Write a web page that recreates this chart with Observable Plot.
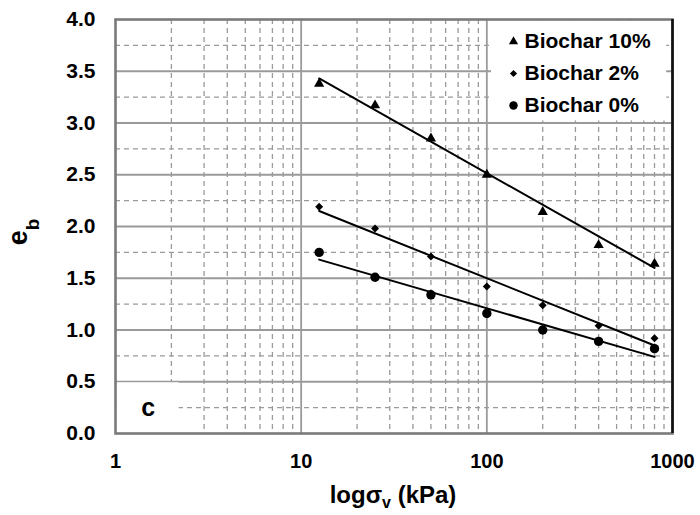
<!DOCTYPE html>
<html><head><meta charset="utf-8">
<script src="https://cdn.jsdelivr.net/npm/d3@7"></script>
<script src="https://cdn.jsdelivr.net/npm/@observablehq/plot@0.6"></script>
<style>
body{margin:0;background:#fff}
svg{font-family:"Liberation Sans",Arial,sans-serif}
</style>
</head><body><div id="chart"></div>
<script>
// ---- data ----
const stress = [12.5, 25, 50, 100, 200, 400, 800];           // σv (kPa)
const biochar10 = [3.38, 3.17, 2.85, 2.50, 2.14, 1.82, 1.64];
const biochar2  = [2.19, 1.98, 1.71, 1.42, 1.24, 1.04, 0.92];
const biochar0  = [1.75, 1.51, 1.34, 1.16, 1.00, 0.89, 0.82];
const seriesNames   = ["Biochar 10%", "Biochar 2%", "Biochar 0%"];
const seriesSymbols = ["triangle", "diamond2", "circle"];
const seriesRadius  = [3.8, 3.6, 4.7];
// fitted trend lines, end points
const fitStress = [12.5, 800];
const fit10 = [3.43, 1.60];
const fit2  = [2.15, 0.85];
const fit0  = [1.68, 0.74];
// axis ticks
const xTicks = [1, 10, 100, 1000];
const yTicks = [0, 0.5, 1.0, 1.5, 2.0, 2.5, 3.0, 3.5, 4.0];
const panelLabel = "c";

// ---- derived tables ----
const values = [biochar10, biochar2, biochar0];
const points = values.flatMap((v, s) => stress.map((x, i) => ({x, y: v[i], s})));
const fits = [fit10, fit2, fit0].flatMap((f, s) => fitStress.map((x, i) => ({x, y: f[i], s})));
const xMinor = xTicks.slice(0, -1).flatMap(d => [2,3,4,5,6,7,8,9].map(k => d * k));
const xMajorInner = xTicks.slice(1, -1);
const yMajorInner = yTicks.slice(1, -1);
const yMinor = yTicks.slice(0, -1).map(d => d + 0.25);

const gridColor = "#9a9a9a";
const marks = [
  Plot.ruleX(xMinor, {stroke: gridColor, strokeWidth: 1.3, strokeDasharray: "5,4", strokeOpacity: 1}),
  Plot.ruleY(yMinor, {stroke: gridColor, strokeWidth: 1.3, strokeDasharray: "5,4", strokeOpacity: 1}),
  Plot.ruleX(xMajorInner, {stroke: gridColor, strokeWidth: 1.8, strokeOpacity: 1}),
  Plot.ruleY(yMajorInner, {stroke: gridColor, strokeWidth: 1.8, strokeOpacity: 1}),
  // white background of legend and of the panel label
  Plot.rect([0], {x1: 106, x2: 930, y1: 3.02, y2: 3.985, fill: "white"}),
  Plot.rect([0], {x1: 1.02, x2: 2.2, y1: 0.02, y2: 0.49, fill: "white"}),
  Plot.text([panelLabel], {x: 1.5, y: 0.25, text: d => d, fontSize: 25, fontWeight: "bold", fill: "black", textAnchor: "middle"}),
  // trend lines
  Plot.line(fits, {x: "x", y: "y", z: "s", stroke: "black", strokeWidth: 2}),
  // data points
  ...seriesNames.map((n, s) => Plot.dot(points.filter(d => d.s === s), {
    x: "x", y: "y", symbol: () => seriesSymbols[s], r: seriesRadius[s], fill: "black", stroke: "none"
  })),
  // legend
  ...seriesNames.map((n, s) => Plot.dot([n], {
    frameAnchor: "top-left", dx: 398, dy: 22 + s * 32,
    symbol: () => seriesSymbols[s], r: seriesRadius[s] * 0.9, fill: "black", stroke: "none"
  })),
  ...seriesNames.map((n, s) => Plot.text([n], {
    frameAnchor: "top-left", dx: 409, dy: 22 + s * 32, text: d => d, textAnchor: "start",
    fontSize: 21, fontWeight: "bold", fill: "black", lineAnchor: "middle"
  })),
  // frame
  Plot.frame({stroke: "#7a7a7a", strokeWidth: 2.6}),
  Plot.ruleX([d3.max(xTicks)], {stroke: "#111", strokeWidth: 2.6}),
  Plot.axisX({ticks: xTicks, tickFormat: d => String(d), tickSize: 0, tickPadding: 20, fontSize: 20, fontWeight: "bold", fill: "black", label: null}),
  Plot.axisY({ticks: yTicks, tickFormat: d3.format(".1f"), tickSize: 0, tickPadding: 20, fontSize: 21, fontWeight: "bold", fill: "black", label: null})
];

const chart = Plot.plot({
  width: 700, height: 515,
  marginLeft: 115, marginRight: 28, marginTop: 19, marginBottom: 82,
  x: {type: "log", domain: [1, 1000]},
  y: {domain: [0, 4]},
  style: {fontFamily: '"Liberation Sans", Arial, sans-serif', color: "black", background: "white", overflow: "visible"},
  marks
});

const svg = d3.select(chart);
// x axis label with subscript
const xl = svg.append("text")
  .attr("x", 393).attr("y", 503)
  .attr("text-anchor", "middle")
  .attr("font-size", 24).attr("font-weight", "bold").attr("fill", "black");
xl.append("tspan").text("logσ");
xl.append("tspan").attr("font-size", 16).attr("dy", 5).text("v");
xl.append("tspan").attr("dy", -5).text(" (kPa)");
// y axis label with subscript
const yl = svg.append("text")
  .attr("transform", "translate(27,232) rotate(-90)")
  .attr("text-anchor", "middle")
  .attr("font-size", 27).attr("font-weight", "bold").attr("fill", "black");
yl.append("tspan").text("e");
yl.append("tspan").attr("font-size", 19).attr("dy", 12).text("b");

document.getElementById("chart").append(chart);
</script>
</body></html>
